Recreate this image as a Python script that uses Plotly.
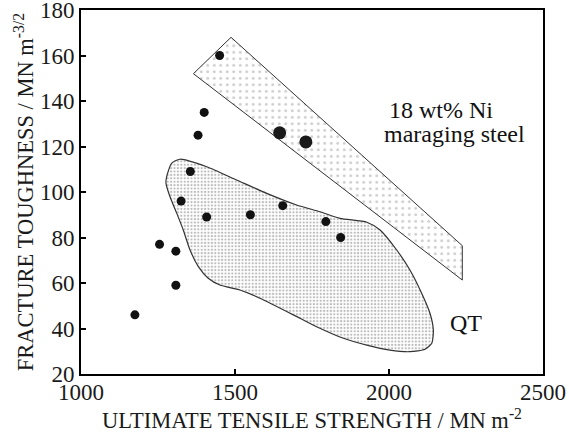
import plotly.graph_objects as go

# Data points (small dots)
pts_x = [1450, 1400, 1380, 1355, 1325, 1408, 1550, 1655, 1795, 1843, 1255, 1308, 1308, 1175]
pts_y = [160, 135, 125, 109, 96, 89, 90, 94, 87, 80, 77, 74, 59, 46]
# Large dots
big_x = [1645, 1730]
big_y = [126, 122]

# Maraging steel band outline
band_x = [1365, 1487, 2238, 2238, 1365]
band_y = [152, 168, 76.4, 61.3, 152]

# QT region outline
qt_x = [1321, 1408, 1505, 1603, 1700, 1776, 1841, 1928, 1971, 2025, 2068, 2106, 2133, 2144,
        2139, 2117, 2068, 2003, 1928, 1852, 1765, 1711, 1581, 1516, 1451, 1413, 1381, 1354,
        1332, 1311, 1289, 1276, 1278, 1294, 1321]
qt_y = [114.4, 111.1, 105.3, 99.4, 94.3, 91.3, 88.4, 86.7, 83.3, 74.5, 65.7, 55.5, 46.7, 39.3,
        33.5, 30.9, 29.8, 30.5, 32.7, 35.7, 40.8, 44.5, 53.3, 56.9, 59.1, 62.1, 67.2, 74.5,
        83.3, 90.6, 97.9, 103.8, 106.7, 112.6, 114.4]

x_ticks = [1000, 1500, 2000, 2500]
y_ticks = [20, 40, 60, 80, 100, 120, 140, 160, 180]

FONT = "Liberation Serif"
TXT = "#1a1a1a"

fig = go.Figure()
fig.add_trace(go.Scatter(
    x=band_x, y=band_y, mode="lines", fill="toself",
    fillcolor="white",
    fillpattern=dict(shape=".", fgcolor="#9a9a9a", bgcolor="white", size=6.5, solidity=0.16),
    line=dict(color="#333333", width=1), hoverinfo="skip", showlegend=False))
fig.add_trace(go.Scatter(
    x=qt_x, y=qt_y, mode="lines", fill="toself",
    fillcolor="white",
    fillpattern=dict(shape=".", fgcolor="#777777", bgcolor="white", size=3.4, solidity=0.35),
    line=dict(color="#333333", width=1.2, shape="spline", smoothing=0.6),
    hoverinfo="skip", showlegend=False))
fig.add_trace(go.Scatter(
    x=pts_x, y=pts_y, mode="markers",
    marker=dict(size=9, color="#111111"), showlegend=False))
fig.add_trace(go.Scatter(
    x=big_x, y=big_y, mode="markers",
    marker=dict(size=13, color="#1a1a1a"), showlegend=False))

ann_font = dict(family=FONT, size=24, color="#111111")
fig.add_annotation(x=1993, y=136, text="18 wt% Ni", showarrow=False,
                   xanchor="left", yanchor="middle", font=ann_font)
fig.add_annotation(x=1977, y=125.5, text="maraging steel", showarrow=False,
                   xanchor="left", yanchor="middle", font=ann_font)
fig.add_annotation(x=2250, y=42.5, text="QT", showarrow=False,
                   xanchor="center", yanchor="middle", font=ann_font)

tickfont = dict(family=FONT, size=23, color=TXT)
titlefont = dict(family=FONT, size=22.5, color=TXT)

fig.update_layout(
    width=569, height=434,
    margin=dict(l=81, r=26, t=10, b=60, autoexpand=False),
    paper_bgcolor="white", plot_bgcolor="white",
    font=dict(family=FONT, size=23, color=TXT),
    xaxis=dict(
        range=[1000, 2500], tickmode="array", tickvals=x_ticks,
        showline=True, linecolor="black", linewidth=2, mirror=True,
        ticks="inside", ticklen=5, tickwidth=1.5, tickcolor="black",
        showgrid=False, zeroline=False, tickfont=tickfont, automargin=False,
        ticklabelstandoff=-4, ticklabeloverflow="allow",
        title=dict(text="ULTIMATE TENSILE STRENGTH / MN m<sup>-2</sup>", font=titlefont, standoff=0),
    ),
    yaxis=dict(
        range=[20, 180], tickmode="array", tickvals=y_ticks,
        showline=True, linecolor="black", linewidth=2, mirror=True,
        ticks="inside", ticklen=5, tickwidth=1.5, tickcolor="black",
        showgrid=False, zeroline=False, tickfont=tickfont, automargin=False,
        ticklabeloverflow="allow",
        title=dict(text="FRACTURE TOUGHNESS / MN m<sup>-3/2</sup>", font=titlefont, standoff=0),
    ),
)
fig.write_html("out.html", config={"displayModeBar": False},
               post_script="document.body.style.margin='0';")
